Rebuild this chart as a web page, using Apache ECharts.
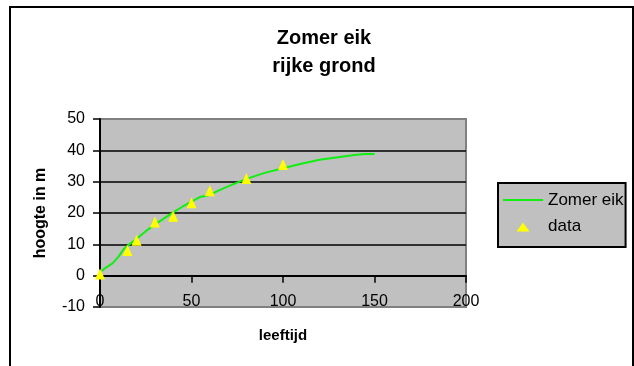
<!DOCTYPE html>
<html>
<head>
<meta charset="utf-8">
<script src="https://cdn.jsdelivr.net/npm/echarts@6/dist/echarts.min.js"></script>
<style>
html,body{margin:0;padding:0;background:#fff;}
#chart{width:634px;height:366px;}
</style>
</head>
<body>
<div id="chart"></div>
<script>
// Model curve "Zomer eik"
var lineX = [1, 3, 7, 10, 13, 15, 20, 25, 30, 35, 40, 45, 50, 55, 58, 60, 65, 70, 80, 90, 100, 110, 120, 130, 140, 145, 150];
var lineY = [1.5, 2.5, 4, 6, 8.5, 9.5, 11.8, 14.2, 16.3, 18.3, 20.2, 22, 23.6, 25.2, 25.4, 25.8, 27.2, 28.5, 30.9, 32.8, 34.3, 35.7, 37, 37.8, 38.6, 38.8, 38.8];
// Measured data points
var dataX = [0, 15, 20, 30, 40, 50, 60, 80, 100];
var dataY = [0.5, 8, 11.3, 17.1, 19, 23.3, 27.1, 31, 35.5];
var titleLines = ['Zomer eik', 'rijke grond'];
var seriesNames = ['Zomer eik', 'data'];
var xTitle = 'leeftijd';
var yTitle = 'hoogte in m';

var FONT = "'Liberation Sans', Arial, sans-serif";
var chart = echarts.init(document.getElementById('chart'), null, {renderer: 'canvas'});

var linePts = lineX.map(function (x, i) { return [x, lineY[i]]; });
var dataPts = dataX.map(function (x, i) { return [x, dataY[i]]; });

chart.setOption({
  animation: false,
  backgroundColor: '#ffffff',
  textStyle: {fontFamily: FONT},
  graphic: [
    {type: 'rect', shape: {x: 10, y: 7, width: 623, height: 380},
     style: {fill: 'none', stroke: '#000', lineWidth: 2}, silent: true, z: 100},
    {type: 'text', x: 324, y: 38,
     style: {text: titleLines[0], font: 'bold 20px ' + FONT, fill: '#000', textAlign: 'center', textVerticalAlign: 'middle'}},
    {type: 'text', x: 324, y: 66,
     style: {text: titleLines[1], font: 'bold 20px ' + FONT, fill: '#000', textAlign: 'center', textVerticalAlign: 'middle'}}
  ],
  grid: {
    left: 100, top: 119, width: 366, height: 188,
    show: true, backgroundColor: '#c0c0c0', borderColor: '#808080', borderWidth: 2,
    containLabel: false
  },
  legend: {
    orient: 'vertical',
    left: 498, top: 183,
    backgroundColor: '#c0c0c0',
    borderColor: '#000', borderWidth: 2, borderRadius: 0,
    padding: [9, 2, 12, 5],
    itemGap: 9,
    itemWidth: 40, itemHeight: 14,
    textStyle: {fontSize: 17, color: '#000', fontFamily: FONT},
    data: [
      {name: seriesNames[0], icon: 'path://M0,0M40,14M0,5.5L40,5.5L40,7.5L0,7.5Z'},
      {name: seriesNames[1], icon: 'path://M0,0M40,14M13.5,12L26.5,12L20,3Z'}
    ]
  },
  xAxis: [
    {
      type: 'value', min: 0, max: 200, interval: 50,
      axisLine: {show: true, onZero: true, lineStyle: {color: '#000', width: 2}},
      axisTick: {show: true, inside: false, length: 7, lineStyle: {color: '#000', width: 1.5}},
      axisLabel: {show: false},
      splitLine: {show: false}
    },
    {
      type: 'value', min: 0, max: 200, interval: 50, position: 'bottom',
      name: xTitle, nameLocation: 'middle', nameGap: 21,
      nameTextStyle: {fontSize: 15, fontWeight: 'bold', color: '#000', fontFamily: FONT},
      axisLine: {show: false, onZero: false},
      axisTick: {show: false},
      axisLabel: {fontSize: 16, color: '#000', inside: true, margin: -3, fontFamily: FONT},
      splitLine: {show: false}
    }
  ],
  yAxis: {
    type: 'value', min: -10, max: 50, interval: 10,
    name: yTitle, nameLocation: 'middle', nameGap: 51, nameRotate: 90,
    nameTextStyle: {fontSize: 16, fontWeight: 'bold', color: '#000', fontFamily: FONT},
    axisLine: {show: true, onZero: false, lineStyle: {color: '#000', width: 2}},
    axisTick: {show: true, inside: false, length: 7, lineStyle: {color: '#000', width: 1.5}},
    axisLabel: {fontSize: 16, color: '#000', margin: 15, fontFamily: FONT},
    splitLine: {show: true, showMinLine: false, showMaxLine: false, lineStyle: {color: '#000', width: 1.5}}
  },
  series: [
    {
      name: seriesNames[0], type: 'line', data: linePts, xAxisIndex: 0,
      symbol: 'none', smooth: false,
      lineStyle: {color: '#11ee11', width: 2},
      itemStyle: {color: '#11ee11'},
      z: 3
    },
    {
      name: seriesNames[1], type: 'scatter', data: dataPts, xAxisIndex: 0,
      symbol: 'triangle', symbolSize: [10, 11],
      itemStyle: {color: '#ffff00', opacity: 1},
      z: 4
    }
  ]
});
</script>
</body>
</html>
